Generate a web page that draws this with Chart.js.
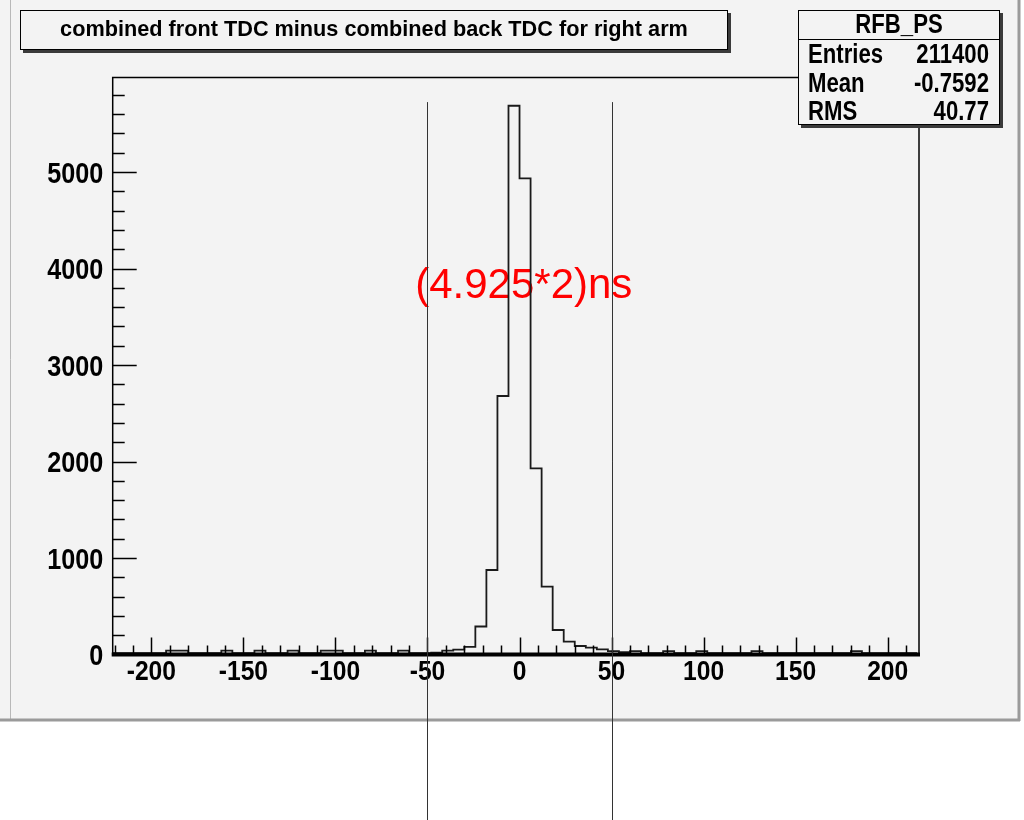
<!DOCTYPE html>
<html lang="en">
<head>
<meta charset="UTF-8">
<title>RFB_PS - combined front TDC minus combined back TDC for right arm</title>
<script src="https://cdn.jsdelivr.net/npm/chart.js"></script>
<style>
  html, body { margin: 0; padding: 0; background: #fff; }
  #wrap { width: 1024px; height: 820px; }
</style>
</head>
<body>
<div id="wrap"><canvas id="hist" width="1024" height="820"></canvas></div>
<script>
// histogram: 6-unit bins starting at -222
const binStart = -222;
const binWidth = 6;
const counts = [
  15, 15, 15, 15, 15, 40, 40, 15, 15, 15,     // -222 .. -168
  40, 15, 15, 40, 15, 15, 40, 15, 15, 40,     // -162 .. -108
  40, 15, 15, 40, 15, 15, 40, 15, 15, 20,     // -102 .. -48
  40, 50, 80, 290, 876, 2679, 5687, 4935, 1930, 703,   // -42 .. 12
  254, 133, 88, 71, 54, 36, 25, 35, 15, 15,   // 18 .. 72
  35, 15, 15, 35, 15, 15, 15, 15, 35, 15,     // 78 .. 132
  15, 15, 15, 15, 15, 15, 15, 35, 15, 15,     // 138 .. 192
  15, 15, 15                                  // 198 .. 210
];
const xTickLabels = [-200, -150, -100, -50, 0, 50, 100, 150, 200];
const yTickLabels = [0, 1000, 2000, 3000, 4000, 5000];
const cutLines = [-50, 50];
const cutTop = 5725;
const histTitle = 'combined front TDC minus combined back TDC for right arm';
const statsName = 'RFB_PS';
const statsLabels = ['Entries', 'Mean', 'RMS'];
const statsValues = ['211400', '-0.7592', '40.77'];
const noteText = '(4.925*2)ns';

const points = counts.map((c, i) => ({ x: binStart + i * binWidth, y: c }));
points.push({ x: binStart + counts.length * binWidth, y: counts[counts.length - 1] });

const boldFont = "'Liberation Sans', Arial, sans-serif";

// ROOT's labels are a narrow bold helvetica, so squeeze bold text sideways
function narrowText(ctx, text, x, y, align, size, sx) {
  ctx.save();
  ctx.font = 'bold ' + size + 'px ' + boldFont;
  ctx.textAlign = align;
  ctx.textBaseline = 'alphabetic';
  ctx.translate(x, y);
  ctx.scale(sx || 0.82, 1);
  ctx.fillText(text, 0, 0);
  ctx.restore();
}

function drawPave(ctx, x, y, w, h) {
  ctx.fillStyle = '#3a3a3a';
  ctx.fillRect(x + 3, y + 3, w, h);
  ctx.fillStyle = '#f3f3f3';
  ctx.fillRect(x, y, w, h);
  ctx.strokeStyle = '#000';
  ctx.lineWidth = 1;
  ctx.strokeRect(x + 0.5, y + 0.5, w - 1, h - 1);
}

const rootPad = {
  id: 'rootPad',
  beforeDraw(chart) {
    const ctx = chart.ctx;
    ctx.save();
    ctx.fillStyle = '#ffffff';
    ctx.fillRect(0, 0, chart.width, chart.height);
    ctx.fillStyle = '#f3f3f3';
    ctx.fillRect(0, 0, 1020, 721);
    ctx.strokeStyle = '#b8b8b8';
    ctx.lineWidth = 1;
    ctx.beginPath();
    ctx.moveTo(10.5, 0); ctx.lineTo(10.5, 719);
    ctx.stroke();
    ctx.strokeStyle = '#9a9a9a';
    ctx.lineWidth = 3;
    ctx.beginPath();
    ctx.moveTo(0, 720); ctx.lineTo(1020, 720);
    ctx.moveTo(1019, 0); ctx.lineTo(1019, 721);
    ctx.stroke();
    ctx.restore();
  },
  beforeDatasetsDraw(chart) {
    const ctx = chart.ctx;
    const xs = chart.scales.x, ys = chart.scales.y;
    const a = chart.chartArea;
    ctx.save();
    ctx.fillStyle = '#000';
    xs.ticks.forEach(t => narrowText(ctx, String(t.value), xs.getPixelForValue(t.value), 680, 'center', 28, 0.88));
    ys.ticks.forEach(t => narrowText(ctx, String(t.value), a.left - 9.5, ys.getPixelForValue(t.value) + 10.5, 'right', 30, 0.84));
    ctx.fillStyle = '#ff0000';
    ctx.font = "42px 'Liberation Sans', Arial, sans-serif";
    ctx.textAlign = 'center';
    ctx.textBaseline = 'alphabetic';
    ctx.fillText(noteText, xs.getPixelForValue(2.3), 298);
    ctx.restore();
  },
  afterDraw(chart) {
    const ctx = chart.ctx;
    const a = chart.chartArea;
    const xs = chart.scales.x, ys = chart.scales.y;
    ctx.save();
    // frame
    ctx.strokeStyle = '#000';
    ctx.lineWidth = 1.5;
    ctx.strokeRect(a.left, a.top, a.right - a.left, a.bottom - a.top);
    ctx.lineWidth = 4;
    ctx.beginPath();
    ctx.moveTo(a.left - 1, a.bottom); ctx.lineTo(a.right + 1, a.bottom);
    ctx.stroke();
    // x ticks (major 50, minor 10)
    ctx.lineWidth = 1.5;
    ctx.beginPath();
    for (let v = Math.ceil(xs.min / 10) * 10; v <= xs.max; v += 10) {
      const px = Math.round(xs.getPixelForValue(v)) + 0.5;
      const len = v % 50 === 0 ? 17 : 9;
      ctx.moveTo(px, a.bottom); ctx.lineTo(px, a.bottom - len);
    }
    // y ticks (major 1000, minor 200)
    for (let v = 200; v <= ys.max; v += 200) {
      const py = Math.round(ys.getPixelForValue(v)) + 0.5;
      const len = v % 1000 === 0 ? 24 : 12;
      ctx.moveTo(a.left, py); ctx.lineTo(a.left + len, py);
    }
    ctx.stroke();
    // cut lines
    ctx.strokeStyle = '#333';
    ctx.lineWidth = 1;
    ctx.beginPath();
    cutLines.forEach(v => {
      const px = Math.round(xs.getPixelForValue(v)) + 0.5;
      ctx.moveTo(px, ys.getPixelForValue(cutTop)); ctx.lineTo(px, chart.height);
    });
    ctx.stroke();
    // title box
    drawPave(ctx, 20, 10, 708, 40);
    ctx.fillStyle = '#000';
    ctx.font = 'bold 21.7px ' + boldFont;
    ctx.textAlign = 'center';
    ctx.textBaseline = 'middle';
    ctx.fillText(histTitle, 374, 30);
    // stats box
    drawPave(ctx, 798, 10, 202, 115);
    ctx.strokeStyle = '#000';
    ctx.lineWidth = 1;
    ctx.beginPath();
    ctx.moveTo(798, 39.5); ctx.lineTo(1000, 39.5);
    ctx.stroke();
    ctx.fillStyle = '#000';
    narrowText(ctx, statsName, 899, 33, 'center', 27);
    const rowY = [63, 92, 120];
    statsLabels.forEach((l, i) => {
      narrowText(ctx, l, 808, rowY[i], 'left', 27);
      narrowText(ctx, statsValues[i], 989, rowY[i], 'right', 27);
    });
    ctx.restore();
  }
};

new Chart(document.getElementById('hist'), {
  type: 'line',
  data: {
    datasets: [{
      data: points,
      stepped: true,
      borderColor: '#1a1a1a',
      borderWidth: 1.8,
      pointRadius: 0,
      fill: false
    }]
  },
  options: {
    responsive: false,
    animation: false,
    events: [],
    layout: { padding: { left: 0, right: 105, top: 77.5, bottom: 0 } },
    plugins: { legend: { display: false }, tooltip: { enabled: false } },
    scales: {
      x: {
        type: 'linear',
        min: -221,
        max: 217,
        grid: { display: false, drawTicks: false },
        border: { display: false },
        afterBuildTicks: s => { s.ticks = xTickLabels.map(v => ({ value: v })); },
        afterFit: s => { s.height = 820 - 654.5; },
        ticks: { display: false }
      },
      y: {
        type: 'linear',
        min: 0,
        max: 5980,
        grid: { display: false, drawTicks: false },
        border: { display: false },
        afterBuildTicks: s => { s.ticks = yTickLabels.map(v => ({ value: v })); },
        afterFit: s => { s.width = 112.7; },
        ticks: { display: false }
      }
    }
  },
  plugins: [rootPad]
});
</script>
</body>
</html>
